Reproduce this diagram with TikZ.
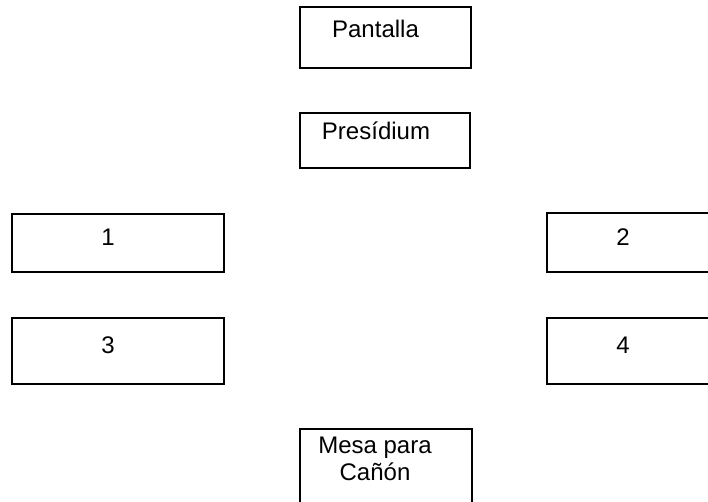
\documentclass[tikz,border=0pt]{standalone}
\usepackage{fontspec}
\setmainfont{Liberation Sans}
\usetikzlibrary{positioning}

\begin{document}
\begin{tikzpicture}
	[x=1pt, y=-1pt,
	 caja/.style={draw, line width=1.3pt, inner sep=0pt},
	 rotulo/.style={anchor=base, inner sep=0pt, align=center,
	   font=\fontsize{24}{27}\selectfont}]
   \useasboundingbox (0,0) rectangle (708,502);
   \clip (0,0) rectangle (708,502);
   \node[caja, minimum width=171, minimum height=61] (pantalla)  at (385.5,37.5) {};
   \node[caja, minimum width=170, minimum height=55] (presidium) at (385,140.5) {};
   \node[caja, minimum width=212, minimum height=58] (mesa1) at (118,243) {};
   \node[caja, minimum width=186, minimum height=59] (mesa2) at (640,242.5) {};
   \node[caja, minimum width=212, minimum height=66] (mesa3) at (118,351) {};
   \node[caja, minimum width=186, minimum height=66] (mesa4) at (640,351) {};
   \node[caja, minimum width=172, minimum height=92] (canon) at (386,475) {};

   \node[rotulo] (tpantalla)  at (375.5,38) {Pantalla};
   \node[rotulo] (tpresidium) at (376,140) {Presídium};
   \node[rotulo] (t1) at (108,245) {1};
   \node[rotulo] (t2) at (623,245) {2};
   \node[rotulo] (t3) at (108,353) {3};
   \node[rotulo] (t4) at (623,353) {4};
   \node[rotulo] (tcanon) at (375,480) {Mesa para\\Cañón};
\end{tikzpicture}
\end{document}
